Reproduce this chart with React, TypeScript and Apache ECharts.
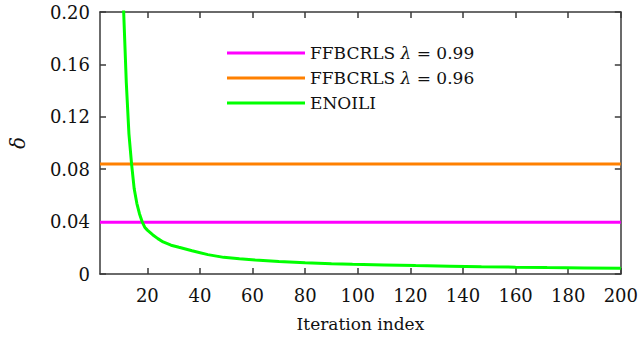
import React, { useEffect, useRef } from "react";
import * as echarts from "echarts";

const xTicks = [20, 40, 60, 80, 100, 120, 140, 160, 180, 200];
const yTicks = [0, 0.04, 0.08, 0.12, 0.16, 0.2];

const ffb99X = [2, 200];
const ffb99Y = [0.0395, 0.0395];
const ffb96X = [2, 200];
const ffb96Y = [0.084, 0.084];

const enoiliX = [10, 11, 12, 13, 14, 15, 16, 17, 18, 19, 20, 22, 24, 26, 29, 32, 37, 43, 49, 55, 61, 70, 80, 90, 98, 110, 122, 135, 147, 160, 172, 186, 200];
const enoiliY = [0.26, 0.2, 0.146, 0.107, 0.084, 0.065, 0.054, 0.046, 0.04, 0.0357, 0.0335, 0.03, 0.027, 0.0245, 0.022, 0.0204, 0.0178, 0.0148, 0.0127, 0.0116, 0.0107, 0.0095, 0.0086, 0.0079, 0.0074, 0.0069, 0.0064, 0.006, 0.0056, 0.0052, 0.0049, 0.0046, 0.0043];

const FONT = "DejaVu Serif";
const AXIS_COLOR = "#3a3a3a";
const TEXT_COLOR = "#111111";

const zip = (xs: number[], ys: number[]) => xs.map((x, i) => [x, ys[i]]);

export default function App() {
  const ref = useRef<HTMLDivElement>(null);
  useEffect(() => {
    if (!ref.current) return;
    const chart = echarts.init(ref.current, undefined, { renderer: "svg" });
    const axisLine = { show: true, onZero: false, lineStyle: { color: AXIS_COLOR, width: 1.5 } };
    const tick = (values: number[]) => ({
      show: true,
      inside: true,
      length: 6,
      customValues: values,
      lineStyle: { color: AXIS_COLOR, width: 1.5 },
    });
    chart.setOption({
      animation: false,
      backgroundColor: "#ffffff",
      textStyle: { fontFamily: FONT },
      grid: { left: 86, right: 18, top: 12, bottom: 67, containLabel: false },
      legend: {
        left: 222,
        top: 38,
        orient: "vertical",
        itemWidth: 78,
        itemHeight: 3,
        itemGap: 5,
        icon: "rect",
        textStyle: {
          fontFamily: FONT,
          fontSize: 17,
          color: TEXT_COLOR,
          lineHeight: 20,
          rich: {
            n: { fontFamily: FONT, fontSize: 17, color: TEXT_COLOR },
            i: { fontFamily: FONT, fontSize: 17, fontStyle: "italic", color: TEXT_COLOR },
          },
        },
        formatter: (name: string) => {
          const parts = name.split("λ");
          if (parts.length === 1) return "{n|" + name + "}";
          return "{n|" + parts[0] + "}{i|λ}{n|" + parts[1] + "}";
        },
        data: ["FFBCRLS λ = 0.99", "FFBCRLS λ = 0.96", "ENOILI"],
      },
      xAxis: [
        {
          type: "value",
          min: 2,
          max: 200,
          position: "bottom",
          axisLine,
          axisTick: tick(xTicks),
          splitLine: { show: false },
          axisLabel: {
            customValues: xTicks,
            margin: 12,
            fontFamily: FONT,
            fontSize: 18,
            color: TEXT_COLOR,
          },
          name: "Iteration index",
          nameLocation: "middle",
          nameGap: 41,
          nameTextStyle: { fontFamily: FONT, fontSize: 17, color: TEXT_COLOR },
        },
        {
          type: "value",
          min: 2,
          max: 200,
          position: "top",
          axisLine,
          axisTick: tick(xTicks),
          axisLabel: { show: false },
          splitLine: { show: false },
        },
      ],
      yAxis: [
        {
          type: "value",
          min: 0,
          max: 0.2,
          interval: 0.04,
          position: "left",
          axisLine,
          axisTick: tick(yTicks),
          splitLine: { show: false },
          axisLabel: {
            customValues: yTicks,
            margin: 10,
            fontFamily: FONT,
            fontSize: 18,
            color: TEXT_COLOR,
            formatter: (v: number) => (v === 0 ? "0" : v.toFixed(2)),
          },
          name: "δ",
          nameLocation: "middle",
          nameRotate: 90,
          nameGap: 72,
          nameTextStyle: { fontFamily: FONT, fontSize: 20, fontStyle: "italic", color: TEXT_COLOR },
        },
        {
          type: "value",
          min: 0,
          max: 0.2,
          interval: 0.04,
          position: "right",
          axisLine,
          axisTick: tick(yTicks),
          axisLabel: { show: false },
          splitLine: { show: false },
        },
      ],
      series: [
        {
          name: "FFBCRLS λ = 0.99",
          type: "line",
          data: zip(ffb99X, ffb99Y),
          showSymbol: false,
          symbol: "none",
          color: "#ff00ff",
          lineStyle: { color: "#ff00ff", width: 3 },
        },
        {
          name: "FFBCRLS λ = 0.96",
          type: "line",
          data: zip(ffb96X, ffb96Y),
          showSymbol: false,
          symbol: "none",
          color: "#ff8000",
          lineStyle: { color: "#ff8000", width: 3 },
        },
        {
          name: "ENOILI",
          type: "line",
          data: zip(enoiliX, enoiliY),
          showSymbol: false,
          symbol: "none",
          clip: true,
          color: "#00ff00",
          lineStyle: { color: "#00ff00", width: 3 },
        },
      ],
    });
    return () => chart.dispose();
  }, []);
  return (
    <div
      ref={ref}
      style={{ position: "fixed", left: 0, top: 0, width: 641, height: 341, background: "#fff" }}
    />
  );
}
